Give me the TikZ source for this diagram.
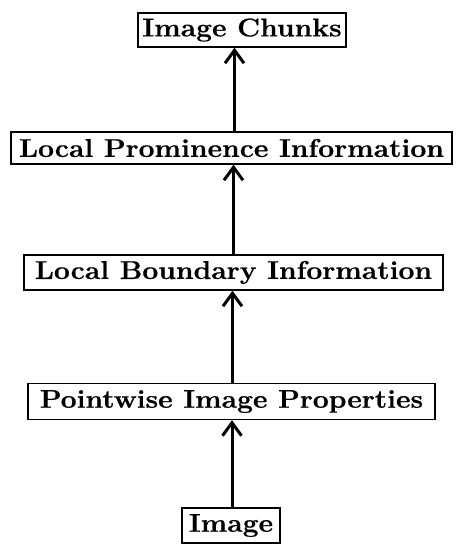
\documentclass[tikz,border=0pt]{standalone}
\usepackage{fontspec}
\setmainfont{Latin Modern Roman}[FakeStretch=1.1,FakeBold=0.6]
\usetikzlibrary{arrows.meta}
\begin{document}
\begin{tikzpicture}[x=1pt,y=1pt,
  lvl/.style={draw, line width=1.4pt, inner sep=0pt, font=\fontsize{25.7}{28}\selectfont\bfseries},
  arr/.style={line width=3pt, -{Straight Barb[length=13pt,width=19pt,line width=3pt]}}]
\useasboundingbox (0,0) rectangle (459,544);
\node[lvl, minimum width=208pt, minimum height=34pt] (chunks) at (242,514) {Image Chunks};
\node[lvl, minimum width=441pt, minimum height=32pt] (prom) at (231.5,396) {Local Prominence Information};
\node[lvl, minimum width=419pt, minimum height=35pt] (bound) at (233.5,271.5) {Local Boundary Information};
\node[lvl, minimum width=407pt, minimum height=36pt] (point) at (231.5,142.5) {Pointwise Image Properties};
\node[lvl, minimum width=98pt, minimum height=35pt] (image) at (231,18.5) {Image};
\draw[arr] ([xshift=1pt]image.north) -- ([xshift=1pt]image.north |- point.south);
\draw[arr] ([xshift=1pt]point.north) -- ([xshift=1pt]point.north |- bound.south);
\draw[arr] (bound.north) -- (bound.north |- prom.south);
\draw[arr] ([xshift=3pt]prom.north) -- ([xshift=3pt]prom.north |- chunks.south);
\end{tikzpicture}
\end{document}
